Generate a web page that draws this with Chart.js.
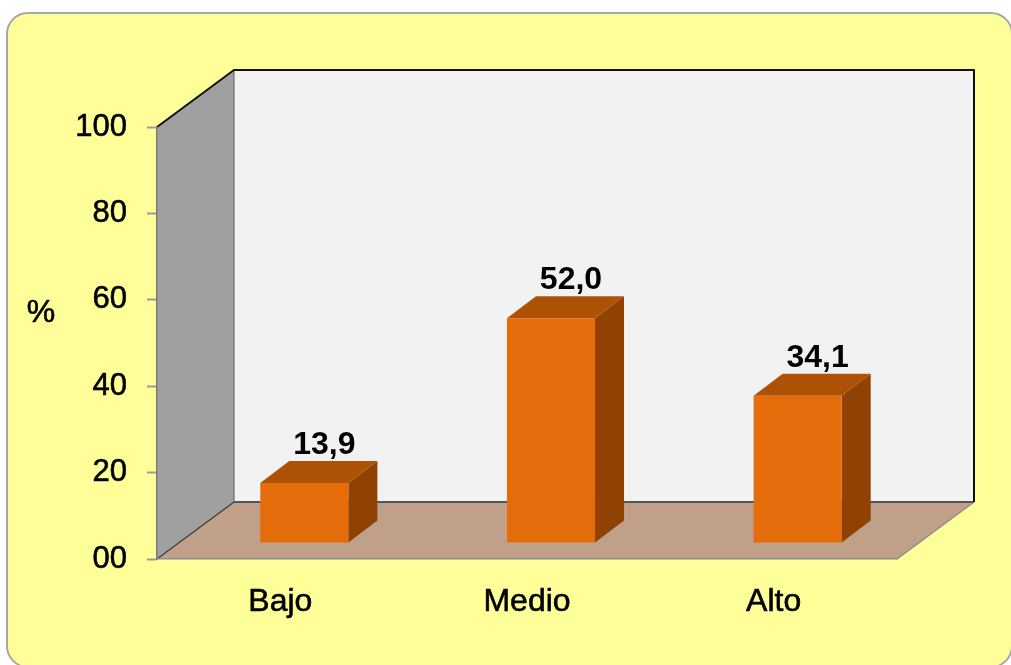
<!DOCTYPE html>
<html>
<head>
<meta charset="utf-8">
<script src="https://cdn.jsdelivr.net/npm/chart.js@4.4.1/dist/chart.umd.min.js"></script>
<style>
  html, body { margin: 0; padding: 0; background: #ffffff; overflow: hidden; }
  #frame {
    position: absolute; left: 6px; top: 12px; width: 1003px; height: 652px;
    background: #ffff99; border: 2px solid #a6a6a6; border-radius: 22px;
  }
  #wrap { position: absolute; left: 0; top: 0; width: 1011px; height: 665px; }
</style>
</head>
<body>
<div id="frame"></div>
<div id="wrap"><canvas id="c" width="1011" height="665"></canvas></div>
<script>
// Nivel alcanzado (%)
const categories = ['Bajo', 'Medio', 'Alto'];
const percentages = [13.9, 52.0, 34.1];
const valueLabels = ['13,9', '52,0', '34,1'];
const yTicks = [0, 20, 40, 60, 80, 100];
const yTickLabels = ['00', '20', '40', '60', '80', '100'];

const FONT = '"Liberation Sans", Arial, sans-serif';

// Perspective offsets of the box (walls) and of the bar prisms
const WALL = { dx: 77, dy: -57 };
const BAR_FRONT = { dx: 24, dy: -16 };
const BAR_DEPTH = { dx: 29, dy: -22 };

function quad(ctx, pts, fill, stroke, lw) {
  ctx.beginPath();
  ctx.moveTo(pts[0][0], pts[0][1]);
  for (let i = 1; i < pts.length; i++) ctx.lineTo(pts[i][0], pts[i][1]);
  ctx.closePath();
  if (fill) { ctx.fillStyle = fill; ctx.fill(); }
  if (stroke) { ctx.strokeStyle = stroke; ctx.lineWidth = lw || 1; ctx.stroke(); }
}

const box3d = {
  id: 'box3d',
  beforeDraw(chart) {
    const { ctx, chartArea: a } = chart;
    const L = a.left, R = a.right, T = a.top, B = a.bottom;
    const dx = WALL.dx, dy = WALL.dy;
    ctx.save();
    // back wall
    quad(ctx, [[L + dx, T + dy], [R + dx, T + dy], [R + dx, B + dy], [L + dx, B + dy]], '#f2f2f2');
    // left wall
    quad(ctx, [[L, T], [L + dx, T + dy], [L + dx, B + dy], [L, B]], '#a0a0a0');
    // floor
    quad(ctx, [[L, B], [R, B], [R + dx, B + dy], [L + dx, B + dy]], '#c0a088');
    ctx.lineJoin = 'round';
    // floor edges
    ctx.strokeStyle = '#8c8c8c'; ctx.lineWidth = 1.5;
    ctx.beginPath(); ctx.moveTo(R, B); ctx.lineTo(R + dx, B + dy); ctx.stroke();
    ctx.strokeStyle = '#3a3a3a'; ctx.lineWidth = 1.2;
    ctx.beginPath(); ctx.moveTo(L, B); ctx.lineTo(L + dx, B + dy); ctx.stroke();
    // wall outlines
    ctx.strokeStyle = '#555555'; ctx.lineWidth = 2;
    ctx.beginPath(); ctx.moveTo(L + dx, B + dy); ctx.lineTo(R + dx, B + dy); ctx.stroke();
    ctx.strokeStyle = '#6e6e6e'; ctx.lineWidth = 1.2;
    ctx.beginPath(); ctx.moveTo(L + dx, T + dy); ctx.lineTo(L + dx, B + dy); ctx.stroke();
    ctx.strokeStyle = '#111111'; ctx.lineWidth = 2;
    ctx.beginPath();
    ctx.moveTo(L, T); ctx.lineTo(L + dx, T + dy); ctx.lineTo(R + dx, T + dy); ctx.lineTo(R + dx, B + dy);
    ctx.stroke();
    // axis title
    ctx.fillStyle = '#000000';
    ctx.strokeStyle = '#000000'; ctx.lineWidth = 0.6;
    ctx.font = '32px ' + FONT;
    ctx.textAlign = 'center'; ctx.textBaseline = 'middle';
    ctx.fillText('%', 41, 313);
    ctx.strokeText('%', 41, 313);
    ctx.restore();
  },
  beforeDatasetDraw(chart, args) {
    const { ctx } = chart;
    const meta = args.meta;
    ctx.save();
    meta.data.forEach((bar, i) => {
      const p = bar.getProps(['x', 'y', 'base', 'width'], true);
      const x0 = p.x - p.width / 2 + BAR_FRONT.dx;
      const x1 = p.x + p.width / 2 + BAR_FRONT.dx;
      const yt = p.y + BAR_FRONT.dy;
      const yb = p.base + BAR_FRONT.dy;
      const ddx = BAR_DEPTH.dx, ddy = BAR_DEPTH.dy;
      // side face
      quad(ctx, [[x1, yt], [x1 + ddx, yt + ddy], [x1 + ddx, yb + ddy], [x1, yb]], '#8f4204');
      // top face
      quad(ctx, [[x0, yt], [x0 + ddx, yt + ddy], [x1 + ddx, yt + ddy], [x1, yt]], '#ad5105');
      // front face
      quad(ctx, [[x0, yt], [x1, yt], [x1, yb], [x0, yb]], '#e46c0a');
      // value label
      ctx.fillStyle = '#000000';
      ctx.font = 'bold 32px ' + FONT;
      ctx.textAlign = 'center'; ctx.textBaseline = 'alphabetic';
      ctx.fillText(valueLabels[i], (x0 + x1) / 2 + 20, yt + ddy - 7);
    });
    ctx.restore();
    return false;
  }
};

new Chart(document.getElementById('c'), {
  type: 'bar',
  data: {
    labels: categories,
    datasets: [{
      data: percentages,
      backgroundColor: '#e46c0a',
      categoryPercentage: 1,
      barPercentage: 0.357
    }]
  },
  options: {
    responsive: false,
    animation: false,
    events: [],
    layout: { padding: { left: 0, top: 127, right: 114, bottom: 0 } },
    plugins: { legend: { display: false }, tooltip: { enabled: false }, title: { display: false } },
    scales: {
      x: {
        grid: { display: false, drawTicks: false },
        border: { display: true, color: '#8c8c8c', width: 1.5 },
        ticks: {
          color: '#000000', font: { family: FONT, size: 32 }, padding: 24,
          textStrokeColor: '#000000', textStrokeWidth: 0.6
        },
        afterFit(scale) { scale.height = 106; }
      },
      y: {
        min: 0, max: 100,
        afterBuildTicks(scale) { scale.ticks = yTicks.map(v => ({ value: v })); },
        grid: { drawOnChartArea: false, drawTicks: true, tickLength: 10, color: '#9a9a9a', tickWidth: 2 },
        border: { display: true, color: '#7a7a7a', width: 1.5 },
        ticks: {
          color: '#000000', font: { family: FONT, size: 31 }, padding: 20,
          textStrokeColor: '#000000', textStrokeWidth: 0.6,
          callback(value) { return yTickLabels[yTicks.indexOf(value)]; }
        },
        afterFit(scale) { scale.width = 157; }
      }
    }
  },
  plugins: [box3d]
});
</script>
</body>
</html>
